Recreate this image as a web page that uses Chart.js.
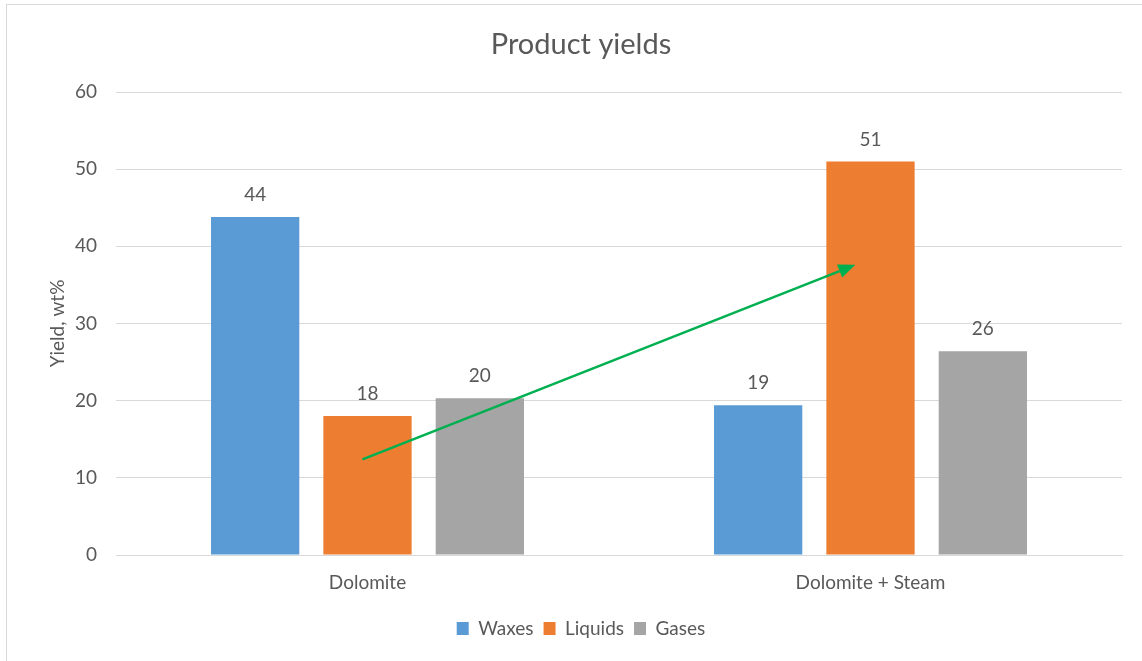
<!DOCTYPE html>
<html>
<head>
<meta charset="utf-8">
<script src="https://cdn.jsdelivr.net/npm/chart.js@4.4.1/dist/chart.umd.min.js"></script>
<style>
  html, body { margin: 0; padding: 0; background: #fff; }
  .frame { position: absolute; left: 6px; top: 4px; width: 1140px; height: 665px; border: 1px solid #d9d9d9; box-sizing: border-box; }
  .wrap { position: absolute; left: 0; top: 0; width: 1142px; height: 661px; }
</style>
</head>
<body>
<div class="frame"></div>
<div class="wrap"><canvas id="c"></canvas></div>
<script>
// data
const categories = ["Dolomite", "Dolomite + Steam"];
const seriesNames = ["Waxes", "Liquids", "Gases"];
const waxes = [43.8, 19.4];
const liquids = [18.0, 51.0];
const gases = [20.3, 26.4];
const seriesColors = ["#5B9BD5", "#ED7D31", "#A5A5A5"];
const yTicks = [0, 10, 20, 30, 40, 50, 60];
// green trend arrow, in axis units (category index, yield)
const arrowFrom = [-0.01, 12.4];
const arrowTo = [0.97, 37.6];

const TXT = "#595959";
const FONT = "Lato, 'Open Sans', 'DejaVu Sans', sans-serif";

const valueLabels = {
  id: "valueLabels",
  afterDatasetsDraw(chart) {
    const ctx = chart.ctx;
    ctx.save();
    ctx.fillStyle = TXT;
    ctx.font = "19px " + FONT;
    ctx.textAlign = "center";
    ctx.textBaseline = "middle";
    chart.data.datasets.forEach((ds, di) => {
      chart.getDatasetMeta(di).data.forEach((bar, i) => {
        ctx.fillText(Math.round(ds.data[i]), bar.x, bar.y - 22);
      });
    });
    ctx.restore();
  }
};

const arrow = {
  id: "arrow",
  afterDraw(chart) {
    const x = chart.scales.x, y = chart.scales.y, ctx = chart.ctx;
    const x0 = x.getPixelForValue(arrowFrom[0]), y0 = y.getPixelForValue(arrowFrom[1]);
    const x1 = x.getPixelForValue(arrowTo[0]), y1 = y.getPixelForValue(arrowTo[1]);
    const a = Math.atan2(y1 - y0, x1 - x0), L = 17, W = 7;
    const bx = x1 - L * Math.cos(a), by = y1 - L * Math.sin(a);
    ctx.save();
    ctx.strokeStyle = "#00B050";
    ctx.fillStyle = "#00B050";
    ctx.lineWidth = 2.5;
    ctx.beginPath();
    ctx.moveTo(x0, y0);
    ctx.lineTo(bx, by);
    ctx.stroke();
    ctx.beginPath();
    ctx.moveTo(x1, y1);
    ctx.lineTo(bx + W * Math.sin(a), by - W * Math.cos(a));
    ctx.lineTo(bx - W * Math.sin(a), by + W * Math.cos(a));
    ctx.closePath();
    ctx.fill();
    ctx.restore();
  }
};

new Chart(document.getElementById("c"), {
  type: "bar",
  data: {
    labels: categories,
    datasets: [waxes, liquids, gases].map((d, i) => ({
      label: seriesNames[i], data: d, backgroundColor: seriesColors[i],
      categoryPercentage: 0.67, barPercentage: 0.786
    }))
  },
  options: {
    responsive: true, maintainAspectRatio: false, animation: false,
    layout: { padding: { top: 10, right: 20, bottom: 13, left: 40 } },
    plugins: {
      title: { display: true, text: "Product yields", color: TXT, font: { family: FONT, size: 29, weight: "normal" }, padding: { top: 17.6, bottom: 29.6 } },
      legend: {
        position: "bottom",
        labels: { color: TXT, font: { family: FONT, size: 19 }, boxWidth: 12, boxHeight: 13, padding: 10 }
      },
      tooltip: { enabled: false }
    },
    scales: {
      x: {
        grid: { display: false, drawTicks: false },
        border: { color: "#d9d9d9" },
        ticks: { color: TXT, font: { family: FONT, size: 19 }, padding: 16 },
        afterFit(s) { s.height = 54; }
      },
      y: {
        min: 0, max: 60,
        afterBuildTicks(s) { s.ticks = yTicks.map(v => ({ value: v })); },
        grid: { color: "#d9d9d9", drawTicks: false },
        border: { display: false },
        ticks: { color: TXT, font: { family: FONT, size: 19 }, padding: 19 },
        title: { display: true, text: "Yield, wt%", color: TXT, font: { family: FONT, size: 19 }, padding: 6 },
        afterFit(s) { s.width = 76; }
      }
    }
  },
  plugins: [valueLabels, arrow]
});
</script>
</body>
</html>
